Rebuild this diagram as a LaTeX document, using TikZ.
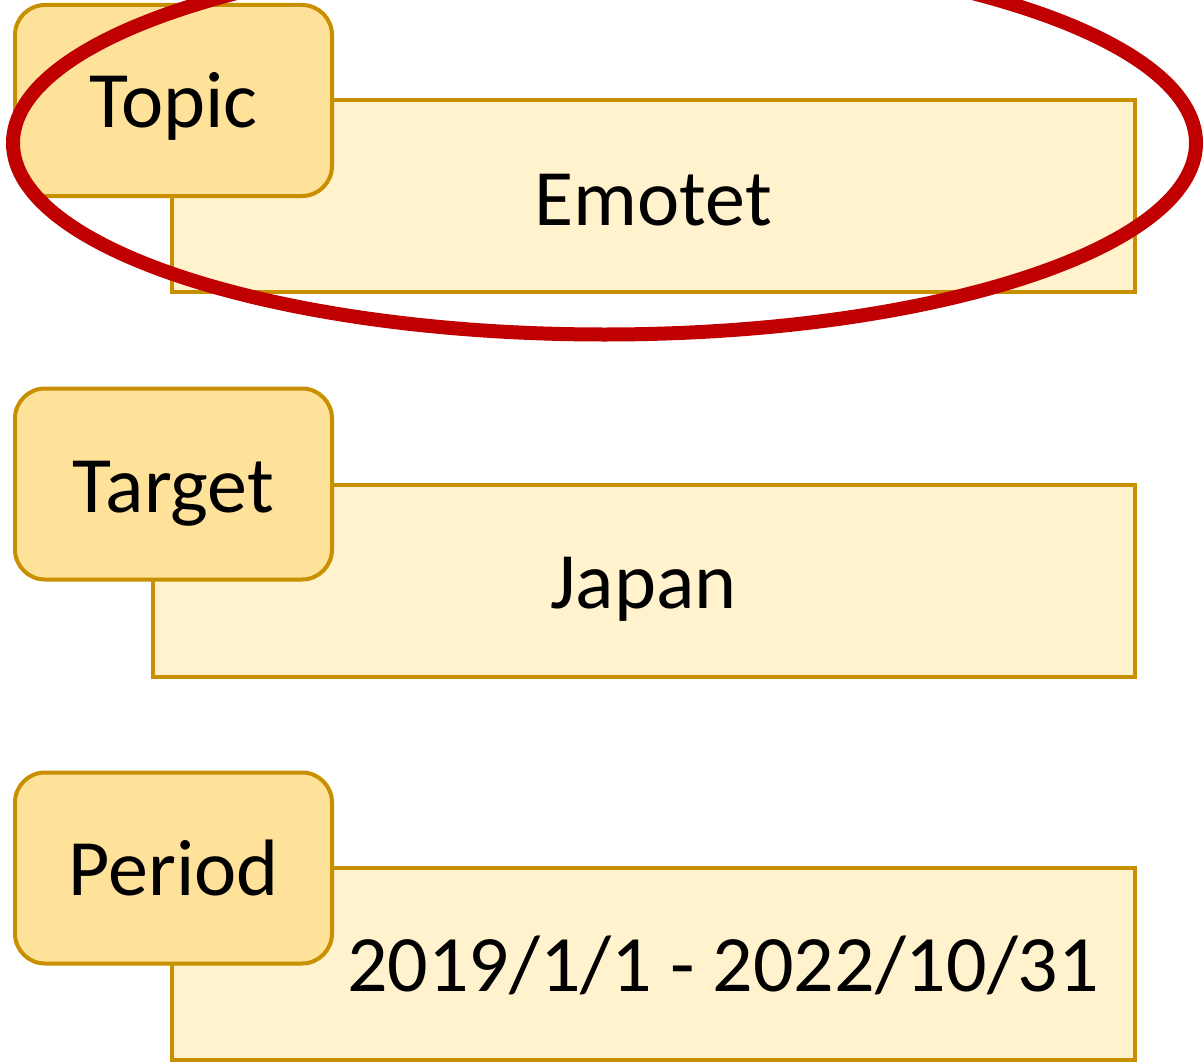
\documentclass[tikz,border=0pt]{standalone}
\usepackage{fontspec}
\setmainfont{Carlito}
\usetikzlibrary{shapes.geometric}
\definecolor{goldline}{HTML}{C89000}
\definecolor{lblfill}{HTML}{FFE29A}
\definecolor{cntfill}{HTML}{FFF2CC}
\definecolor{hired}{HTML}{C00000}
\begin{document}
\begin{tikzpicture}[x=1pt,y=-1pt,
  lblbox/.style={draw=goldline,line width=4pt,fill=lblfill,rounded corners=30pt,
    minimum width=317pt,minimum height=191pt,inner sep=0pt},
  cntbox/.style={draw=goldline,line width=4pt,fill=cntfill,
    minimum height=192pt,inner sep=0pt},
  txt/.style={font=\fontsize{80}{96}\selectfont,anchor=base,inner sep=0pt}]
\useasboundingbox (0,0) rectangle (1204,1062);
\clip (0,0) rectangle (1204,1062);
\fill[white] (0,0) rectangle (1204,1062);
% Topic
\node[cntbox,minimum width=963pt] (c1) at (653.5,196) {};
\node[lblbox] (l1) at (173.5,100.5) {};
\node[txt] (t1) at (173.5,128) {Topic};
\node[txt] (v1) at (653.5,225) {Emotet};
% Target
\node[cntbox,minimum width=982pt] (c2) at (644,581) {};
\node[lblbox] (l2) at (173.5,484) {};
\node[txt] (t2) at (173.5,512) {Target};
\node[txt] (v2) at (643.5,608) {Japan};
% Period
\node[cntbox,minimum width=963pt] (c3) at (653.5,964) {};
\node[lblbox] (l3) at (173.5,868) {};
\node[txt] (t3) at (173.5,895) {Period};
\node[txt] (v3) at (723,991) {2019/1/1 - 2022/10/31};
% highlight
\node[draw=hired,line width=14pt,ellipse,minimum width=1183pt,minimum height=383pt,inner sep=0pt] (hl) at (604.5,143) {};
\end{tikzpicture}
\end{document}
